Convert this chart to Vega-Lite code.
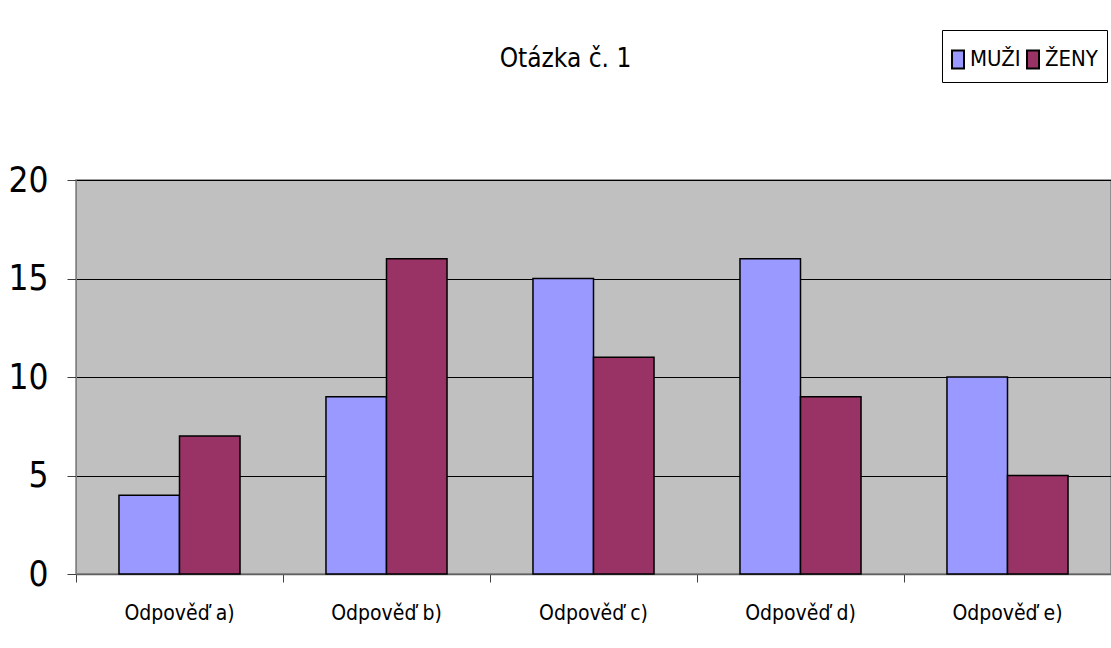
{
  "$schema": "https://vega.github.io/schema/vega-lite/v6.json",
  "width": 1035,
  "height": 394,
  "autosize": {"type": "none"},
  "padding": {"left": 76, "top": 180, "right": 0, "bottom": 74},
  "background": "white",
  "title": {
    "text": "Otázka č. 1",
    "font": "DejaVu Sans Condensed, Liberation Sans",
    "fontSize": 26,
    "fontWeight": "normal",
    "color": "black",
    "anchor": "middle",
    "frame": "group",
    "baseline": "bottom",
    "dx": -28,
    "offset": -68
  },
  "config": {
    "view": {"fill": "#C0C0C0", "stroke": "#808080", "strokeWidth": 1.5}
  },
  "data": {
    "values": [
      {"odpoved": "Odpověď a)", "pohlavi": "MUŽI", "pocet": 4},
      {"odpoved": "Odpověď a)", "pohlavi": "ŽENY", "pocet": 7},
      {"odpoved": "Odpověď b)", "pohlavi": "MUŽI", "pocet": 9},
      {"odpoved": "Odpověď b)", "pohlavi": "ŽENY", "pocet": 16},
      {"odpoved": "Odpověď c)", "pohlavi": "MUŽI", "pocet": 15},
      {"odpoved": "Odpověď c)", "pohlavi": "ŽENY", "pocet": 11},
      {"odpoved": "Odpověď d)", "pohlavi": "MUŽI", "pocet": 16},
      {"odpoved": "Odpověď d)", "pohlavi": "ŽENY", "pocet": 9},
      {"odpoved": "Odpověď e)", "pohlavi": "MUŽI", "pocet": 10},
      {"odpoved": "Odpověď e)", "pohlavi": "ŽENY", "pocet": 5}
    ]
  },
  "mark": {"type": "bar", "stroke": "black", "strokeWidth": 1.5},
  "encoding": {
    "x": {
      "field": "odpoved",
      "type": "nominal",
      "scale": {"paddingInner": 0, "paddingOuter": 0},
      "axis": {
        "title": null,
        "labelAngle": 0,
        "bandPosition": 0,
        "labelFont": "DejaVu Sans Condensed, Liberation Sans",
        "labelFontSize": 21,
        "labelColor": "black",
        "labelPadding": 20,
        "tickSize": 8,
        "tickColor": "#404040",
        "domainColor": "#606060",
        "domainWidth": 1.5
      }
    },
    "xOffset": {
      "field": "pohlavi",
      "type": "nominal",
      "scale": {"paddingInner": 0, "paddingOuter": 0.71}
    },
    "y": {
      "field": "pocet",
      "type": "quantitative",
      "scale": {"domain": [0, 20], "nice": false},
      "axis": {
        "title": null,
        "values": [0, 5, 10, 15, 20],
        "grid": true,
        "gridColor": "black",
        "gridWidth": 1,
        "labelFont": "DejaVu Sans Condensed, Liberation Sans",
        "labelFontSize": 35,
        "labelColor": "black",
        "labelPadding": 19,
        "tickSize": 9,
        "tickColor": "#404040",
        "domainColor": "#808080"
      }
    },
    "color": {
      "field": "pohlavi",
      "type": "nominal",
      "scale": {"domain": ["MUŽI", "ŽENY"], "range": ["#9999FF", "#993366"]},
      "legend": {
        "title": null,
        "orient": "none",
        "legendX": 866,
        "legendY": -150,
        "direction": "horizontal",
        "symbolType": "M-0.316,-0.474H0.316V0.474H-0.316Z",
        "symbolSize": 1444,
        "symbolOffset": -13,
        "symbolStrokeColor": "black",
        "symbolStrokeWidth": 2,
        "labelFont": "DejaVu Sans Condensed, Liberation Sans",
        "labelFontSize": 22,
        "labelColor": "black",
        "columnPadding": 1,
        "labelOffset": -8,
        "padding": 9,
        "strokeColor": "black",
        "fillColor": "white"
      }
    }
  }
}
